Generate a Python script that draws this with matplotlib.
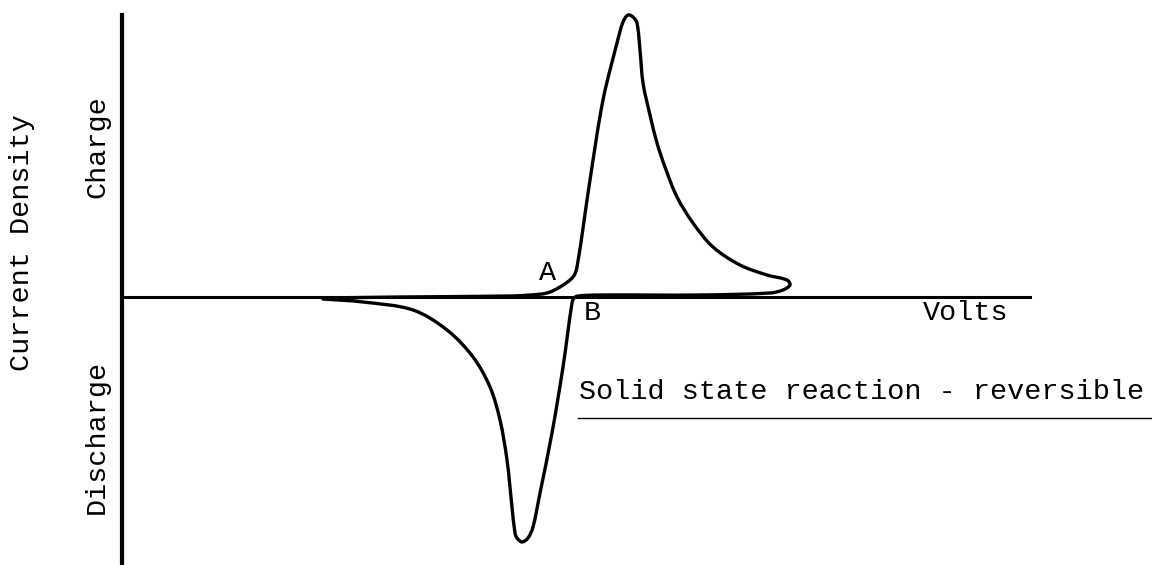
import matplotlib.pyplot as plt
import numpy as np
from matplotlib.path import Path
from matplotlib.patches import PathPatch

# Cyclic sweep, arbitrary units (volts along x, current density along y).
# Loop starts on the discharge tail, runs through the charge wave (A),
# back along the baseline to B, then down through the discharge wave.
volts = [201, 278, 388, 408, 425, 438, 451, 455, 468, 481,
         495, 501, 506, 511, 515, 518, 521, 528, 535, 543,
         555, 571, 591, 618, 645, 665, 668, 661, 648, 578,
         478, 456, 452, 450, 441, 430, 418, 411, 406, 400,
         395, 393, 390, 385, 378, 368, 351, 325, 291, 241,
         201]
current = [-1, 0, 1, 2, 4, 10, 20, 30, 117, 197,
           254, 275, 282, 280, 274, 247, 214, 182, 154, 130,
           100, 74, 50, 32, 22, 17, 12, 7, 4, 2,
           2, 1, -1, -6, -70, -136, -196, -230, -241, -245,
           -241, -236, -210, -163, -123, -90, -60, -33, -13, -5,
           -2]

label_font = 'Liberation Mono'
fs = 20.5


def smooth_path(x, y):
    """Smooth cubic curve through the points, tangents scaled by chord length."""
    pts = np.column_stack([x, y]).astype(float)
    n = len(pts)
    seg = np.linalg.norm(np.diff(pts, axis=0), axis=1)
    tang = np.zeros_like(pts)
    for i in range(n):
        if i == 0:
            tang[i] = (pts[1] - pts[0]) / seg[0]
        elif i == n - 1:
            tang[i] = (pts[-1] - pts[-2]) / seg[-1]
        else:
            tang[i] = (pts[i + 1] - pts[i - 1]) / (seg[i] + seg[i - 1])
    verts = [pts[0]]
    codes = [Path.MOVETO]
    for i in range(n - 1):
        d = seg[i] / 3
        verts += [pts[i] + tang[i] * d, pts[i + 1] - tang[i + 1] * d, pts[i + 1]]
        codes += [Path.CURVE4] * 3
    return Path(verts, codes)


fig = plt.figure(figsize=(11.52, 5.65), dpi=100)
ax = fig.add_axes([0, 0, 1, 1])
ax.set_xlim(-122, 1030)
ax.set_ylim(-268, 297)

ax.add_patch(PathPatch(smooth_path(volts, current), facecolor='none',
                       edgecolor='black', lw=2.4, joinstyle='round',
                       capstyle='round'))

# axes drawn through the origin, no ticks
for side in ('top', 'right'):
    ax.spines[side].set_visible(False)
ax.spines['left'].set_position(('data', 0))
ax.spines['bottom'].set_position(('data', 0))
ax.spines['left'].set_linewidth(3.0)
ax.spines['bottom'].set_linewidth(2.2)
ax.spines['left'].set_bounds(-268, 282)
ax.spines['bottom'].set_bounds(0, 908)
ax.set_xticks([])
ax.set_yticks([])
ax.patch.set_alpha(0)

ax.text(426, 24, 'A', fontsize=fs, family=label_font, ha='center', va='center')
ax.text(470, -16, 'B', fontsize=fs, family=label_font, ha='center', va='center')
ax.text(844, -16, 'Volts', fontsize=fs, family=label_font, ha='center', va='center')

ax.text(-100, 54, 'Current Density', fontsize=fs, family=label_font,
        rotation=90, ha='center', va='center')
ax.text(-25, 150, 'Charge', fontsize=fs, family=label_font,
        rotation=90, ha='center', va='center')
ax.text(-25, -140, 'Discharge', fontsize=fs, family=label_font,
        rotation=90, ha='center', va='center')

ax.text(740, -95, 'Solid state reaction - reversible', fontsize=fs,
        family=label_font, ha='center', va='center')
ax.plot([456, 1030], [-121, -121], color='black', lw=1.0)

fig.savefig('out.png', dpi=100)
